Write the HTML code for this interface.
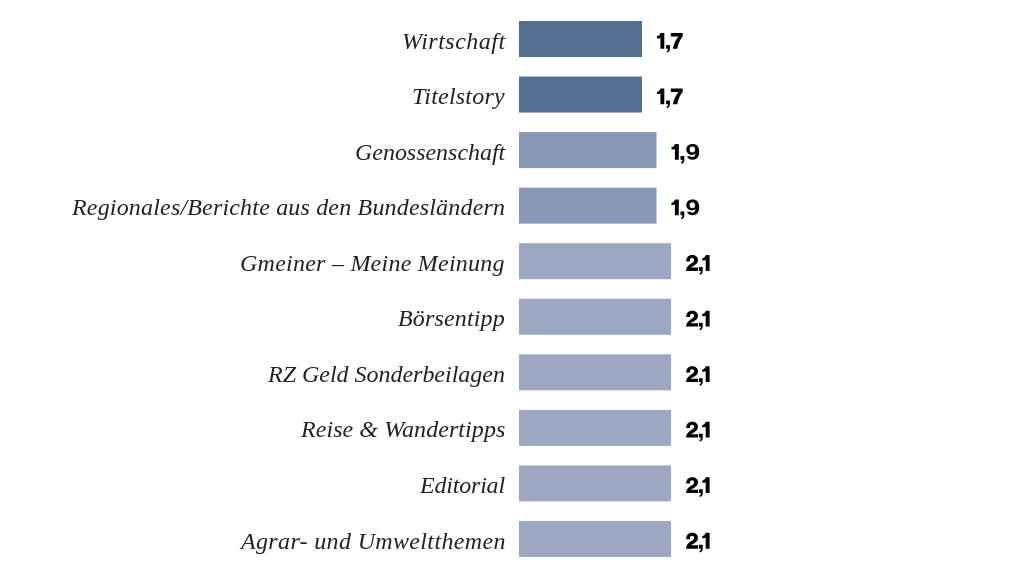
<!DOCTYPE html>
<html><head><meta charset="utf-8">
<style>
html,body{margin:0;padding:0;background:#fff;}
body{width:1024px;height:576px;position:relative;overflow:hidden;}
svg{position:absolute;left:0;top:0;}
.lab{position:absolute;will-change:transform;font-family:"Liberation Serif",serif;font-style:italic;font-size:24px;color:#222;white-space:nowrap;line-height:36px;}
</style></head><body>
<svg width="1024" height="576" viewBox="0 0 1024 576">
<defs>
<path id="g1" d="M0,3.2 C1.6,3.0 3.0,2.0 3.5,0 L7.3,0 L7.3,15.8 L3.4,15.8 L3.4,5.0 C2.4,5.4 1.2,5.5 0,5.5 Z"/>
<path id="gc" d="M0,12 L3.8,12 L3.8,15.9 C3.8,18.0 2.9,19.2 0.9,19.7 L0.5,18.3 C1.4,18.0 1.9,17.2 1.95,15.8 L0,15.8 Z"/>
<path id="g7" d="M0,0 L11.9,0 L11.9,3.4 C9.4,6.6 7.4,10.5 6.4,15.8 L2.0,15.8 C3.0,11 4.9,7 7.6,3.55 L0,3.55 Z"/>
<path id="g9" fill-rule="evenodd" d="M6.4,0 C10.4,0 12.9,2.6 12.9,7.8 C12.9,13.0 10.4,15.8 6.3,15.8 C3.3,15.8 1.2,14.3 0.8,12.2 L4.4,12.2 C4.7,12.8 5.4,13.1 6.3,13.1 C8.2,13.1 9.1,11.4 9.2,9.3 C8.4,10.3 7.2,10.9 5.8,10.9 C2.4,10.9 0,8.6 0,5.5 C0,2.2 2.6,0 6.4,0 Z M6.1,2.6 C4.5,2.6 3.3,3.8 3.3,5.6 C3.3,7.4 4.5,8.6 6.1,8.6 C7.7,8.6 8.9,7.4 8.9,5.6 C8.9,3.8 7.7,2.6 6.1,2.6 Z"/>
<path id="g2" d="M0.2,6.3 C0.2,2.2 2.6,0 6.1,0 C9.6,0 12,2.0 12,5.0 C12,7.6 10.5,9.0 8.3,10.4 C6.6,11.5 5.3,12.0 4.6,12.5 L12,12.5 L12,15.8 L0,15.8 C0.1,12.2 2.2,10.4 5.0,8.5 C7.0,7.1 8.1,6.4 8.1,5.1 C8.1,3.8 7.3,3.0 6.0,3.0 C4.5,3.0 3.9,4.2 3.9,6.3 Z"/>
</defs>
<rect x="519" y="21.00" width="123" height="36" fill="#546f94"/>
<rect x="519" y="76.55" width="123" height="36" fill="#546f94"/>
<rect x="519" y="132.10" width="137.5" height="36" fill="#8897b5"/>
<rect x="519" y="187.65" width="137.5" height="36" fill="#8897b5"/>
<rect x="519" y="243.20" width="152" height="36" fill="#9ca7c1"/>
<rect x="519" y="298.75" width="152" height="36" fill="#9ca7c1"/>
<rect x="519" y="354.30" width="152" height="36" fill="#9ca7c1"/>
<rect x="519" y="409.85" width="152" height="36" fill="#9ca7c1"/>
<rect x="519" y="465.40" width="152" height="36" fill="#9ca7c1"/>
<rect x="519" y="520.95" width="152" height="36" fill="#9ca7c1"/>
<g fill="#000">
<use href="#g1" x="657.00" y="32.90"/>
<use href="#gc" x="666.10" y="32.90"/>
<use href="#g7" x="670.80" y="32.90"/>
<use href="#g1" x="657.00" y="88.45"/>
<use href="#gc" x="666.10" y="88.45"/>
<use href="#g7" x="670.80" y="88.45"/>
<use href="#g1" x="671.50" y="144.00"/>
<use href="#gc" x="680.50" y="144.00"/>
<use href="#g9" x="686.30" y="144.00"/>
<use href="#g1" x="671.50" y="199.55"/>
<use href="#gc" x="680.50" y="199.55"/>
<use href="#g9" x="686.30" y="199.55"/>
<use href="#g2" x="686.00" y="255.10"/>
<use href="#gc" x="698.90" y="255.10"/>
<use href="#g1" x="702.30" y="255.10"/>
<use href="#g2" x="686.00" y="310.65"/>
<use href="#gc" x="698.90" y="310.65"/>
<use href="#g1" x="702.30" y="310.65"/>
<use href="#g2" x="686.00" y="366.20"/>
<use href="#gc" x="698.90" y="366.20"/>
<use href="#g1" x="702.30" y="366.20"/>
<use href="#g2" x="686.00" y="421.75"/>
<use href="#gc" x="698.90" y="421.75"/>
<use href="#g1" x="702.30" y="421.75"/>
<use href="#g2" x="686.00" y="477.30"/>
<use href="#gc" x="698.90" y="477.30"/>
<use href="#g1" x="702.30" y="477.30"/>
<use href="#g2" x="686.00" y="532.85"/>
<use href="#gc" x="698.90" y="532.85"/>
<use href="#g1" x="702.30" y="532.85"/>
</g>
</svg>
<div class="lab" style="top:23px;letter-spacing:0.5px;right:518.50px">Wirtschaft</div>
<div class="lab" style="top:78px;letter-spacing:0.222px;right:518.78px">Titelstory</div>
<div class="lab" style="top:134px;letter-spacing:-0.031px;right:519.03px">Genossenschaft</div>
<div class="lab" style="top:189px;letter-spacing:0.177px;right:518.82px">Regionales/Berichte aus den Bundesländern</div>
<div class="lab" style="top:245px;letter-spacing:0.241px;right:518.76px">Gmeiner – Meine Meinung</div>
<div class="lab" style="top:300px;letter-spacing:0.156px;right:518.84px">Börsentipp</div>
<div class="lab" style="top:356px;letter-spacing:-0.019px;right:519.02px">RZ Geld Sonderbeilagen</div>
<div class="lab" style="top:411px;letter-spacing:0.067px;right:518.93px">Reise &amp; Wandertipps</div>
<div class="lab" style="top:467px;letter-spacing:-0.2px;right:519.20px">Editorial</div>
<div class="lab" style="top:523px;letter-spacing:0.345px;right:518.65px">Agrar- und Umweltthemen</div>
</body></html>
